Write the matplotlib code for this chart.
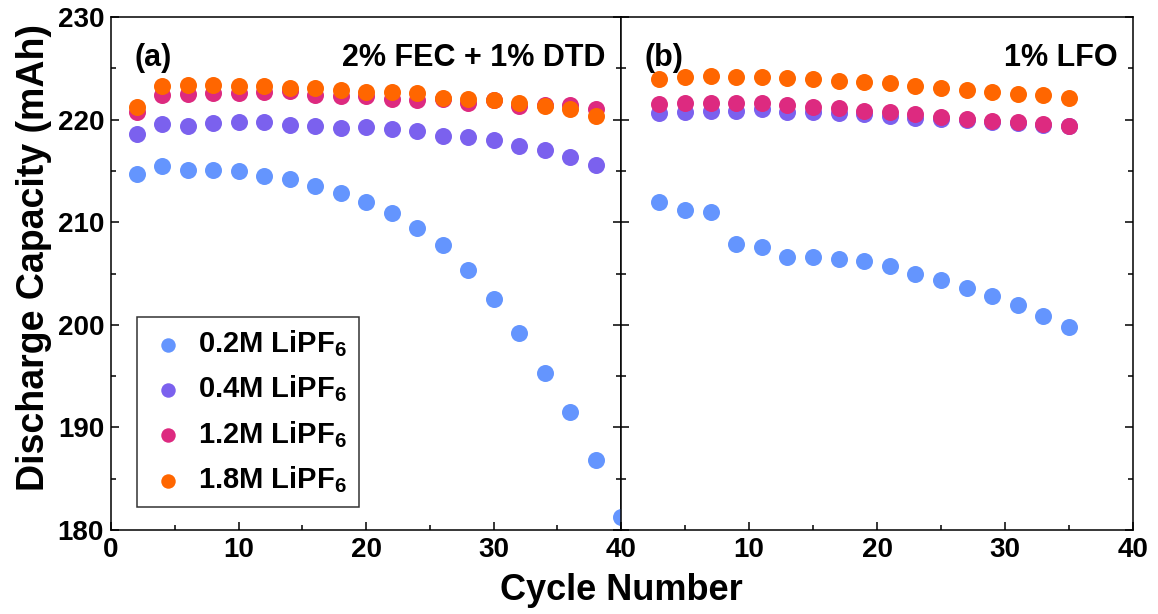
import matplotlib
matplotlib.use("Agg")
import matplotlib.pyplot as plt
from matplotlib.ticker import MultipleLocator, FixedLocator

plt.rcParams['font.family'] = ['Liberation Sans', 'DejaVu Sans']
plt.rcParams['font.weight'] = 'bold'
plt.rcParams['mathtext.fontset'] = 'custom'
plt.rcParams['mathtext.rm'] = 'Liberation Sans:bold'
plt.rcParams['mathtext.bf'] = 'Liberation Sans:bold'
plt.rcParams['mathtext.it'] = 'Liberation Sans:bold'

# series labels and colours
labels = [r'0.2M LiPF$_6$', r'0.4M LiPF$_6$', r'1.2M LiPF$_6$', r'1.8M LiPF$_6$']
colors = ['#6495FE', '#7B61EE', '#DD2A80', '#FF6600']

# panel (a): 2% FEC + 1% DTD
cyc_a = [2, 4, 6, 8, 10, 12, 14, 16, 18, 20, 22, 24, 26, 28, 30, 32, 34, 36, 38]
cyc_a_02 = cyc_a + [40]
a_02 = [214.7, 215.5, 215.1, 215.1, 215.0, 214.5, 214.2, 213.5, 212.9, 212.0,
        210.9, 209.4, 207.8, 205.3, 202.5, 199.2, 195.3, 191.5, 186.8, 181.3]
a_04 = [218.6, 219.6, 219.4, 219.7, 219.8, 219.8, 219.5, 219.4, 219.2, 219.3,
        219.1, 218.9, 218.4, 218.3, 218.0, 217.4, 217.0, 216.4, 215.6]
a_12 = [220.8, 222.4, 222.5, 222.6, 222.6, 222.7, 222.8, 222.4, 222.3, 222.3,
        222.0, 221.9, 222.0, 221.6, 221.9, 221.3, 221.4, 221.4, 221.0]
a_18 = [221.2, 223.3, 223.4, 223.4, 223.3, 223.3, 223.1, 223.1, 222.9, 222.7,
        222.7, 222.6, 222.1, 222.0, 221.9, 221.6, 221.3, 221.0, 220.4]

# panel (b): 1% LFO
cyc_b = [3, 5, 7, 9, 11, 13, 15, 17, 19, 21, 23, 25, 27, 29, 31, 33, 35]
b_02 = [212.0, 211.2, 211.0, 207.9, 207.6, 206.6, 206.6, 206.4, 206.2, 205.7,
        205.0, 204.4, 203.6, 202.8, 201.9, 200.9, 199.8]
b_04 = [220.7, 220.8, 220.9, 220.9, 221.0, 220.8, 220.8, 220.7, 220.6, 220.4,
        220.2, 220.1, 220.0, 219.8, 219.7, 219.5, 219.4]
b_12 = [221.5, 221.6, 221.6, 221.6, 221.6, 221.4, 221.2, 221.1, 220.9, 220.8,
        220.6, 220.3, 220.1, 219.9, 219.8, 219.6, 219.4]
b_18 = [224.0, 224.2, 224.3, 224.2, 224.2, 224.1, 224.0, 223.8, 223.7, 223.6,
        223.3, 223.1, 222.9, 222.7, 222.5, 222.4, 222.1]

fig = plt.figure(figsize=(11.58, 6.14), dpi=100)
ax1 = fig.add_axes([0.0959, 0.137, 0.4404, 0.835])
ax2 = fig.add_axes([0.5363, 0.137, 0.4421, 0.835], sharey=ax1)

ms = 150
xa = [cyc_a_02, cyc_a, cyc_a, cyc_a]
ya = [a_02, a_04, a_12, a_18]
for x, y, c, lab in zip(xa, ya, colors, labels):
    ax1.scatter(x, y, s=ms, color=c, label=lab, linewidths=0, clip_on=False, zorder=3)

yb = [b_02, b_04, b_12, b_18]
for y, c in zip(yb, colors):
    ax2.scatter(cyc_b, y, s=ms, color=c, linewidths=0, zorder=3)

for ax in (ax1, ax2):
    ax.set_xlim(0, 40)
    ax.set_ylim(180, 230)
    ax.xaxis.set_minor_locator(MultipleLocator(5))
    ax.yaxis.set_major_locator(MultipleLocator(10))
    ax.yaxis.set_minor_locator(MultipleLocator(5))
    ax.tick_params(which='both', direction='in', left=True, right=True, top=False,
                   labelsize=20, width=1.1)
    ax.tick_params(which='major', length=6, pad=5)
    ax.tick_params(which='minor', length=3.5)
    for sp in ax.spines.values():
        sp.set_linewidth(1.1)
    for t in ax.get_xticklabels() + ax.get_yticklabels():
        t.set_fontweight('bold')

ax1.xaxis.set_major_locator(FixedLocator([0, 10, 20, 30, 40]))
ax2.xaxis.set_major_locator(FixedLocator([0, 10, 20, 30, 40]))
ax2.set_xticklabels(['', '10', '20', '30', '40'])
ax2.tick_params(labelleft=False)

ax1.text(0.045, 0.92, '(a)', transform=ax1.transAxes, fontsize=22, fontweight='bold',
         ha='left', va='center')
ax1.text(0.97, 0.92, '2% FEC + 1% DTD', transform=ax1.transAxes, fontsize=22,
         fontweight='bold', ha='right', va='center')
ax2.text(0.045, 0.92, '(b)', transform=ax2.transAxes, fontsize=22, fontweight='bold',
         ha='left', va='center')
ax2.text(0.97, 0.92, '1% LFO', transform=ax2.transAxes, fontsize=22,
         fontweight='bold', ha='right', va='center')

ax1.set_ylabel('Discharge Capacity (mAh)', fontsize=27, fontweight='bold')
ax1.yaxis.set_label_coords(-0.115, 0.532)
fig.text(0.537, 0.038, 'Cycle Number', fontsize=26, fontweight='bold', ha='center', va='center')

leg = ax1.legend(loc='lower left', bbox_to_anchor=(0.051, 0.045), borderaxespad=0,
                 fontsize=21, markerscale=0.85, fancybox=False, edgecolor='black',
                 handlelength=1.34, handletextpad=0.36, labelspacing=0.5, borderpad=0.4)
leg.get_frame().set_linewidth(1.1)
for t in leg.get_texts():
    t.set_fontweight('bold')

fig.savefig('out.png', dpi=100)
